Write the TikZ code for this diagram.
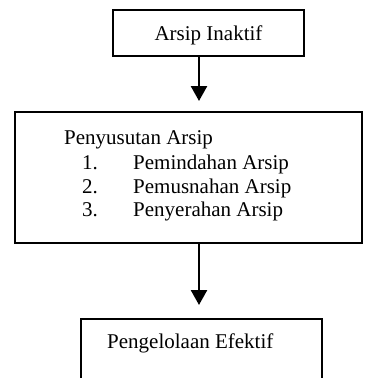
\documentclass[tikz,border=0pt]{standalone}
\usepackage{fontspec}
\setmainfont{Liberation Serif}
\usetikzlibrary{arrows.meta, positioning}
\tikzset{
  flowbox/.style={
    rectangle, draw=black, line width=2pt, fill=white,
    inner sep=0pt, align=center
  },
  itemtext/.style={
    anchor=base west, inner sep=0pt
  },
  flowarrow/.style={
    -{Triangle[length=15pt,width=16pt]}, line width=2.5pt
  }
}

\begin{document}
\begin{tikzpicture}[x=1pt, y=-1pt, font=\fontsize{21}{24}\selectfont]

  \clip (0,0) rectangle (371,378);
  \fill[white] (0,0) rectangle (371,378);

  \node[flowbox, minimum width=191pt, minimum height=46pt, text depth=0pt] (inaktif)
    at (208.5,33) {Arsip Inaktif};

  \node[flowbox, minimum width=347pt, minimum height=131pt] (susut)
    at (188.5,177.5) {};
  \node[itemtext] (judul) at (64,144) {Penyusutan Arsip};
  \node[itemtext] (n1) at (82,169) {1.};
  \node[itemtext] (n2) at (82,193) {2.};
  \node[itemtext] (n3) at (82,216) {3.};
  \node[itemtext] (pindah) at (133,169) {Pemindahan Arsip};
  \node[itemtext] (musnah) at (133,193) {Pemusnahan Arsip};
  \node[itemtext] (serah)  at (133,216) {Penyerahan Arsip};

  \node[flowbox, minimum width=241pt, minimum height=90pt] (kelola)
    at (201.5,364) {};
  \node[itemtext] (efektif) at (107,348) {Pengelolaan Efektif};

  % arrows stop short of the next box
  \coordinate (tip1) at (199,101);
  \coordinate (tip2) at (199,305);
  \draw[flowarrow] (inaktif.south -| tip1) -- (tip1);
  \draw[flowarrow] (susut.south -| tip2) -- (tip2);

\end{tikzpicture}
\end{document}
